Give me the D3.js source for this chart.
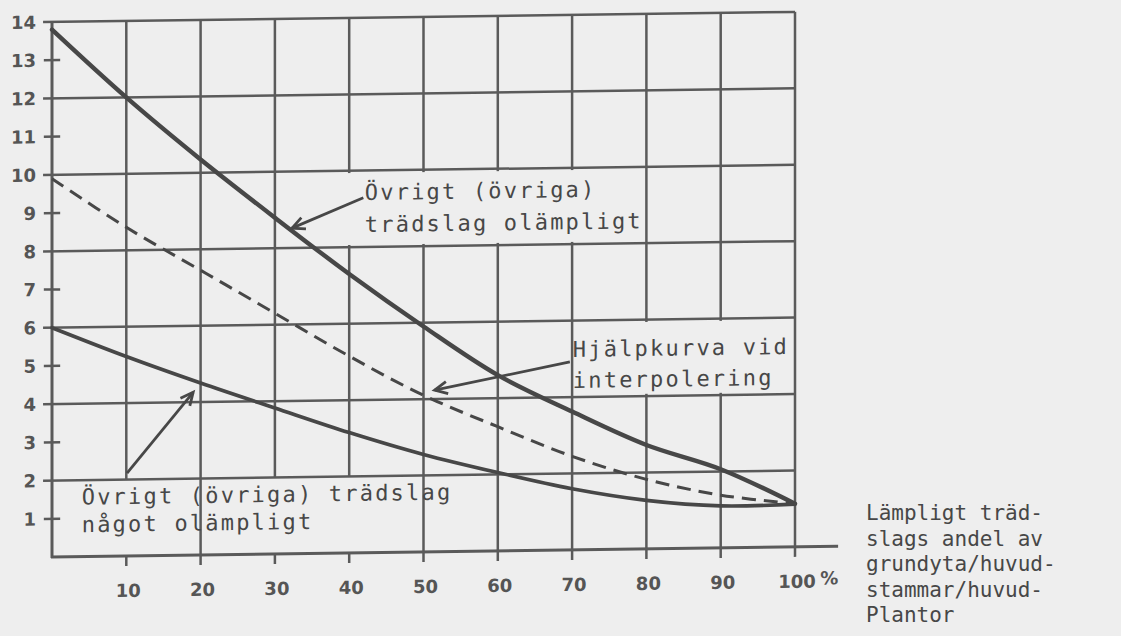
<!DOCTYPE html>
<html><head><meta charset="utf-8">
<script src="https://cdn.jsdelivr.net/npm/d3@7"></script>
<style>
html,body{margin:0;padding:0;background:#eeeeee;}
svg{display:block;}
</style></head>
<body>
<svg id="chart" width="1121" height="636"></svg>
<script>
// ---- data ----
const xValues = [0, 10, 20, 30, 40, 50, 60, 70, 80, 90, 100];
const upperCurve  = [13.8, 12.0, 10.35, 8.8, 7.3, 5.9, 4.6, 3.62, 2.72, 2.06, 1.13];  // Övrigt trädslag olämpligt
const helperCurve = [9.9, 8.6, 7.45, 6.3, 5.15, 4.1, 3.25, 2.45, 1.82, 1.38, 1.13];   // Hjälpkurva (dashed)
const lowerCurve  = [6.0, 5.22, 4.5, 3.82, 3.15, 2.55, 2.05, 1.6, 1.27, 1.1, 1.12];   // något olämpligt
const xTickLabels = [10, 20, 30, 40, 50, 60, 70, 80, 90, 100];
const yTickLabels = [1, 2, 3, 4, 5, 6, 7, 8, 9, 10, 11, 12, 13, 14];
const label1 = ["Övrigt (övriga)", "trädslag olämpligt"];
const label2 = ["Hjälpkurva vid", "interpolering"];
const label3 = ["Övrigt (övriga) trädslag", "något olämpligt"];
const sideText = ["Lämpligt träd-", "slags andel av", "grundyta/huvud-", "stammar/huvud-", "Plantor"];

// ---- layout ----
const svg = d3.select("#chart");
const X0 = 52, X1 = 795, Y0 = 557, Y1 = 22;
const x = d3.scaleLinear().domain([0, 100]).range([X0, X1]);
const y = d3.scaleLinear().domain([0, 14]).range([Y0, Y1]);
const ink = "#5a5a5a", dark = "#474747", bg = "#eeeeee";

const g = svg.append("g")
  .attr("transform", `translate(${X0},0) skewY(-0.78) translate(${-X0},0)`);

// grid: horizontal lines at even values
const evenY = yTickLabels.filter(v => v % 2 === 0);
const oddY = yTickLabels.filter(v => v % 2 === 1);
g.selectAll("line.h").data(evenY).join("line")
  .attr("x1", x(-1.2)).attr("x2", x(100)).attr("y1", d => y(d)).attr("y2", d => y(d))
  .attr("stroke", ink).attr("stroke-width", 2.5);
// odd ticks
g.selectAll("line.o").data(oddY).join("line")
  .attr("x1", x(-1.1)).attr("x2", x(1.1)).attr("y1", d => y(d)).attr("y2", d => y(d))
  .attr("stroke", ink).attr("stroke-width", 2.5);
// vertical grid lines
const gapCols = [10, 30, 40];
g.selectAll("line.v").data(xTickLabels).join("line")
  .attr("x1", d => x(d)).attr("x2", d => x(d))
  .attr("y1", d => gapCols.includes(d) ? y(2) : y(0)).attr("y2", y(14))
  .attr("stroke", ink).attr("stroke-width", 2.5);
// ticks below axis
g.selectAll("line.t").data(xTickLabels).join("line")
  .attr("x1", d => x(d)).attr("x2", d => x(d))
  .attr("y1", y(0)).attr("y2", y(0) + 10)
  .attr("stroke", ink).attr("stroke-width", 2.5);
// left axis and bottom axis
g.append("line").attr("x1", x(0)).attr("x2", x(0)).attr("y1", y(0) + 1).attr("y2", y(14))
  .attr("stroke", ink).attr("stroke-width", 3);
g.append("line").attr("x1", x(0) - 1).attr("x2", x(105.8)).attr("y1", y(0)).attr("y2", y(0))
  .attr("stroke", ink).attr("stroke-width", 3);

// label boxes hiding grid
g.append("rect").attr("x", x(35.5)).attr("y", y(9.94)).attr("width", x(79.7) - x(35.5)).attr("height", y(8.06) - y(9.94)).attr("fill", bg);
g.append("rect").attr("x", x(70.4)).attr("y", y(5.94)).attr("width", x(99.7) - x(70.4)).attr("height", y(4.06) - y(5.94)).attr("fill", bg);

// curves
const line = d3.line().x((d, i) => x(xValues[i])).y(d => y(d)).curve(d3.curveCatmullRom.alpha(0.5));
g.append("path").attr("d", line(upperCurve)).attr("fill", "none").attr("stroke", dark).attr("stroke-width", 4.4).attr("stroke-linecap", "round");
g.append("path").attr("d", line(helperCurve)).attr("fill", "none").attr("stroke", dark).attr("stroke-width", 3).attr("stroke-dasharray", "14,8");
g.append("path").attr("d", line(lowerCurve)).attr("fill", "none").attr("stroke", dark).attr("stroke-width", 3.6).attr("stroke-linecap", "round");

// arrows
const arrows = [
  {from: [41.9, 9.29], to: [32.3, 8.52]},
  {from: [69.7, 4.92], to: [51.5, 4.23]},
  {from: [10.1, 2.17], to: [19.0, 4.26]}
];
arrows.forEach(a => {
  const x1 = x(a.from[0]), y1 = y(a.from[1]), x2 = x(a.to[0]), y2 = y(a.to[1]);
  g.append("line").attr("x1", x1).attr("y1", y1).attr("x2", x2).attr("y2", y2)
    .attr("stroke", dark).attr("stroke-width", 2.8);
  const ang = Math.atan2(y1 - y2, x1 - x2), L = 14, s = 0.45;
  g.append("path")
    .attr("d", `M${x2 + L * Math.cos(ang + s)},${y2 + L * Math.sin(ang + s)} L${x2},${y2} L${x2 + L * Math.cos(ang - s)},${y2 + L * Math.sin(ang - s)}`)
    .attr("fill", "none").attr("stroke", dark).attr("stroke-width", 2.8);
});

// typewriter labels
const mono = "'DejaVu Sans Mono', 'Liberation Mono', monospace";
function textBlock(lines, x0, ys) {
  lines.forEach((t, i) => {
    g.append("text").attr("x", x0).attr("y", ys[i]).text(t)
      .attr("font-family", mono).attr("font-size", 22).attr("letter-spacing", 2.2).attr("fill", dark);
  });
}
textBlock(label1, x(42.1), [y(9.23), y(8.39)]);
textBlock(label2, x(70.1), [y(5.05), y(4.24)]);
textBlock(label3, x(4.0), [y(1.36), y(0.64)]);

// axis labels
const sans = "'DejaVu Sans', sans-serif";
g.selectAll("text.yl").data(yTickLabels).join("text")
  .attr("x", 36).attr("y", d => y(d) + 6.5).attr("text-anchor", "end")
  .attr("font-family", sans).attr("font-weight", "bold").attr("font-size", 18).attr("fill", "#555")
  .text(d => d);
g.selectAll("text.xl").data(xTickLabels).join("text")
  .attr("x", d => x(d) + 2).attr("y", y(0) + 41).attr("text-anchor", "middle")
  .attr("font-family", sans).attr("font-weight", "bold").attr("font-size", 18).attr("fill", "#555")
  .text(d => d);
g.append("text").attr("x", x(104.6)).attr("y", y(0) + 38).attr("text-anchor", "middle")
  .attr("font-family", sans).attr("font-weight", "bold").attr("font-size", 18).attr("fill", "#555")
  .text("%");

// side text
sideText.forEach((t, i) => {
  svg.append("text").attr("x", 866).attr("y", 520 + i * 25.5).text(t)
    .attr("font-family", mono).attr("font-size", 21).attr("fill", dark);
});
</script>
</body></html>
